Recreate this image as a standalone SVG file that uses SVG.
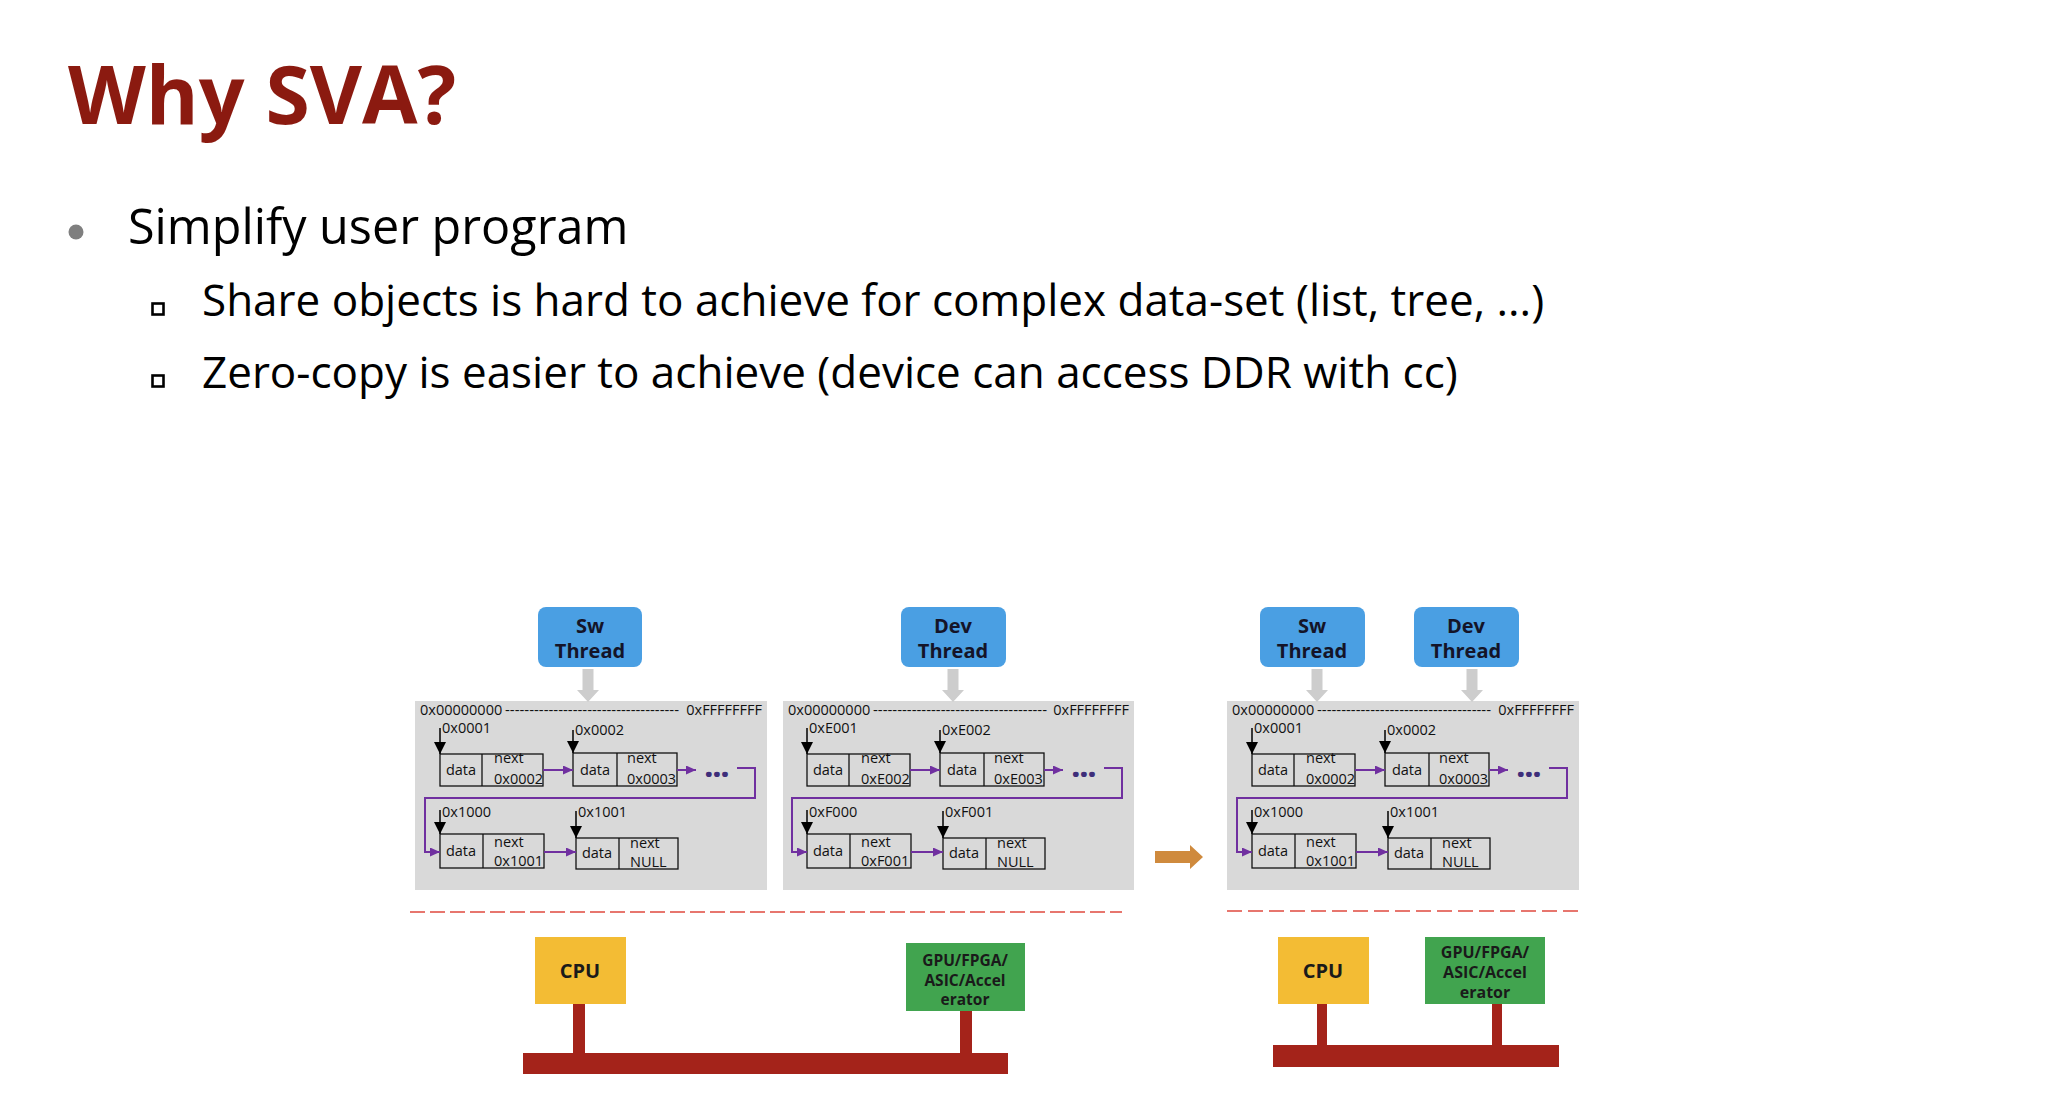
<svg xmlns="http://www.w3.org/2000/svg" width="2046" height="1098" viewBox="0 0 2046 1098">
<style>
.title{font-family:"Open Sans","Noto Sans",sans-serif;font-weight:700;font-size:80.5px;fill:#8B1A10}
.b1{font-family:"Open Sans","Noto Sans",sans-serif;font-size:48.5px;fill:#000}
.b2{font-family:"Open Sans","Noto Sans",sans-serif;font-size:44px;fill:#000}
.panel{fill:#D9D9D9}
.t{font-family:"Open Sans","Noto Sans",sans-serif;font-size:14.5px;fill:#111}
.cell{fill:none;stroke:#111;stroke-width:1.3}
.ptr{stroke:#000;stroke-width:1.5;fill:none}
.lnk{stroke:#7030A0;stroke-width:2;fill:none}
.dots{font-family:"Open Sans","Noto Sans",sans-serif;font-weight:800;font-size:28px;fill:#3E2E7A}
.thread{fill:#4A9FE3}
.tt{font-family:"Open Sans","Noto Sans",sans-serif;font-weight:700;font-size:20px;fill:#141428;text-anchor:middle}
.garrow{fill:#CDCDCD}
.sep{stroke:#E04A3F;stroke-width:1.5;fill:none}
.cpu{fill:#F3BC34}
.gpu{fill:#41A44F}
.bus{fill:#A4231A}
.hw{font-family:"Open Sans","Noto Sans",sans-serif;font-weight:700;fill:#1A1A1A;text-anchor:middle}
</style>
<defs>
<marker id="pa" markerUnits="userSpaceOnUse" markerWidth="10" markerHeight="9" refX="10" refY="4.5" orient="auto"><path d="M0,0 L10,4.5 L0,9 z" fill="#7030A0"/></marker>
<marker id="ba" markerUnits="userSpaceOnUse" markerWidth="12" markerHeight="12" refX="12" refY="6" orient="auto"><path d="M0,0 L12,6 L0,12 z" fill="#000"/></marker>
</defs>
<rect width="2046" height="1098" fill="#fff"/>

<g id="heading">
<text class="title" x="68" y="124">Why SVA?</text>
<circle cx="76" cy="232" r="7.5" fill="#7F7F7F"/>
<text class="b1" x="128" y="244">Simplify user program</text>
<rect x="152.5" y="303.5" width="11" height="11" fill="none" stroke="#000" stroke-width="2.6"/>
<text class="b2" x="202" y="316">Share objects is hard to achieve for complex data-set (list, tree, ...)</text>
<rect x="152.5" y="375.5" width="11" height="11" fill="none" stroke="#000" stroke-width="2.6"/>
<text class="b2" x="202" y="388">Zero-copy is easier to achieve (device can access DDR with cc)</text>
</g>

<g id="thread-sw-1"><rect class="thread" x="538" y="607" width="104" height="60" rx="8"/><text class="tt" x="590" y="633">Sw</text><text class="tt" x="590" y="658">Thread</text></g>
<g id="thread-dev-2"><rect class="thread" x="901" y="607" width="105" height="60" rx="8"/><text class="tt" x="953" y="633">Dev</text><text class="tt" x="953" y="658">Thread</text></g>
<g id="thread-sw-3"><rect class="thread" x="1260" y="607" width="105" height="60" rx="8"/><text class="tt" x="1312" y="633">Sw</text><text class="tt" x="1312" y="658">Thread</text></g>
<g id="thread-dev-3"><rect class="thread" x="1414" y="607" width="105" height="60" rx="8"/><text class="tt" x="1466" y="633">Dev</text><text class="tt" x="1466" y="658">Thread</text></g>

<g id="panel-1" transform="translate(415,701)">
<rect class="panel" width="352" height="189"/>
<text class="t" x="5" y="14">0x00000000</text>
<text class="t" x="90" y="14" textLength="174" lengthAdjust="spacingAndGlyphs">------------------------------------</text>
<text class="t" x="347" y="14" text-anchor="end">0xFFFFFFFF</text>
<g id="p1-n1"><rect class="cell" x="25" y="53" width="103" height="32"/><line class="cell" x1="67" y1="53" x2="67" y2="85"/><text class="t" x="46" y="74" text-anchor="middle">data</text><text class="t" x="79" y="62">next</text><text class="t" x="79" y="83">0x0002</text></g>
<g id="p1-n2"><rect class="cell" x="158" y="52" width="104" height="33"/><line class="cell" x1="202" y1="52" x2="202" y2="85"/><text class="t" x="180" y="74" text-anchor="middle">data</text><text class="t" x="212" y="62">next</text><text class="t" x="212" y="83">0x0003</text></g>
<g id="p1-n3"><rect class="cell" x="25" y="133" width="104" height="34"/><line class="cell" x1="68" y1="133" x2="68" y2="167"/><text class="t" x="46" y="155" text-anchor="middle">data</text><text class="t" x="79" y="146">next</text><text class="t" x="79" y="165">0x1001</text></g>
<g id="p1-n4"><rect class="cell" x="161" y="137" width="102" height="31"/><line class="cell" x1="204" y1="137" x2="204" y2="168"/><text class="t" x="182" y="157" text-anchor="middle">data</text><text class="t" x="215" y="147">next</text><text class="t" x="215" y="166">NULL</text></g>
<text class="t" x="27" y="32">0x0001</text>
<text class="t" x="160" y="34">0x0002</text>
<text class="t" x="27" y="116">0x1000</text>
<text class="t" x="163" y="116">0x1001</text>
<text class="dots" x="302" y="76" text-anchor="middle">…</text>
<g id="p1-links">
<path class="ptr" d="M25,27 V53" marker-end="url(#ba)"/>
<path class="ptr" d="M158,29 V52" marker-end="url(#ba)"/>
<path class="ptr" d="M25,109 V133" marker-end="url(#ba)"/>
<path class="ptr" d="M161,110 V137" marker-end="url(#ba)"/>
<path class="lnk" d="M128,69 H158" marker-end="url(#pa)"/>
<path class="lnk" d="M262,69 H281" marker-end="url(#pa)"/>
<path class="lnk" d="M322,67 H340 V97 H10 V151 H25" marker-end="url(#pa)"/>
<path class="lnk" d="M129,151 H161" marker-end="url(#pa)"/>
</g>
</g>

<g id="panel-2" transform="translate(783,701)">
<rect class="panel" width="351" height="189"/>
<text class="t" x="5" y="14">0x00000000</text>
<text class="t" x="90" y="14" textLength="174" lengthAdjust="spacingAndGlyphs">------------------------------------</text>
<text class="t" x="346" y="14" text-anchor="end">0xFFFFFFFF</text>
<g id="p2-n1"><rect class="cell" x="24" y="53" width="103" height="32"/><line class="cell" x1="66" y1="53" x2="66" y2="85"/><text class="t" x="45" y="74" text-anchor="middle">data</text><text class="t" x="78" y="62">next</text><text class="t" x="78" y="83">0xE002</text></g>
<g id="p2-n2"><rect class="cell" x="157" y="52" width="104" height="33"/><line class="cell" x1="201" y1="52" x2="201" y2="85"/><text class="t" x="179" y="74" text-anchor="middle">data</text><text class="t" x="211" y="62">next</text><text class="t" x="211" y="83">0xE003</text></g>
<g id="p2-n3"><rect class="cell" x="24" y="133" width="104" height="34"/><line class="cell" x1="67" y1="133" x2="67" y2="167"/><text class="t" x="45" y="155" text-anchor="middle">data</text><text class="t" x="78" y="146">next</text><text class="t" x="78" y="165">0xF001</text></g>
<g id="p2-n4"><rect class="cell" x="160" y="137" width="102" height="31"/><line class="cell" x1="203" y1="137" x2="203" y2="168"/><text class="t" x="181" y="157" text-anchor="middle">data</text><text class="t" x="214" y="147">next</text><text class="t" x="214" y="166">NULL</text></g>
<text class="t" x="26" y="32">0xE001</text>
<text class="t" x="159" y="34">0xE002</text>
<text class="t" x="26" y="116">0xF000</text>
<text class="t" x="162" y="116">0xF001</text>
<text class="dots" x="301" y="76" text-anchor="middle">…</text>
<g id="p2-links">
<path class="ptr" d="M24,27 V53" marker-end="url(#ba)"/>
<path class="ptr" d="M157,29 V52" marker-end="url(#ba)"/>
<path class="ptr" d="M24,109 V133" marker-end="url(#ba)"/>
<path class="ptr" d="M160,110 V137" marker-end="url(#ba)"/>
<path class="lnk" d="M127,69 H157" marker-end="url(#pa)"/>
<path class="lnk" d="M261,69 H280" marker-end="url(#pa)"/>
<path class="lnk" d="M321,67 H339 V97 H9 V151 H24" marker-end="url(#pa)"/>
<path class="lnk" d="M128,151 H160" marker-end="url(#pa)"/>
</g>
</g>

<g id="panel-3" transform="translate(1227,701)">
<rect class="panel" width="352" height="189"/>
<text class="t" x="5" y="14">0x00000000</text>
<text class="t" x="90" y="14" textLength="174" lengthAdjust="spacingAndGlyphs">------------------------------------</text>
<text class="t" x="347" y="14" text-anchor="end">0xFFFFFFFF</text>
<g id="p3-n1"><rect class="cell" x="25" y="53" width="103" height="32"/><line class="cell" x1="67" y1="53" x2="67" y2="85"/><text class="t" x="46" y="74" text-anchor="middle">data</text><text class="t" x="79" y="62">next</text><text class="t" x="79" y="83">0x0002</text></g>
<g id="p3-n2"><rect class="cell" x="158" y="52" width="104" height="33"/><line class="cell" x1="202" y1="52" x2="202" y2="85"/><text class="t" x="180" y="74" text-anchor="middle">data</text><text class="t" x="212" y="62">next</text><text class="t" x="212" y="83">0x0003</text></g>
<g id="p3-n3"><rect class="cell" x="25" y="133" width="104" height="34"/><line class="cell" x1="68" y1="133" x2="68" y2="167"/><text class="t" x="46" y="155" text-anchor="middle">data</text><text class="t" x="79" y="146">next</text><text class="t" x="79" y="165">0x1001</text></g>
<g id="p3-n4"><rect class="cell" x="161" y="137" width="102" height="31"/><line class="cell" x1="204" y1="137" x2="204" y2="168"/><text class="t" x="182" y="157" text-anchor="middle">data</text><text class="t" x="215" y="147">next</text><text class="t" x="215" y="166">NULL</text></g>
<text class="t" x="27" y="32">0x0001</text>
<text class="t" x="160" y="34">0x0002</text>
<text class="t" x="27" y="116">0x1000</text>
<text class="t" x="163" y="116">0x1001</text>
<text class="dots" x="302" y="76" text-anchor="middle">…</text>
<g id="p3-links">
<path class="ptr" d="M25,27 V53" marker-end="url(#ba)"/>
<path class="ptr" d="M158,29 V52" marker-end="url(#ba)"/>
<path class="ptr" d="M25,109 V133" marker-end="url(#ba)"/>
<path class="ptr" d="M161,110 V137" marker-end="url(#ba)"/>
<path class="lnk" d="M128,69 H158" marker-end="url(#pa)"/>
<path class="lnk" d="M262,69 H281" marker-end="url(#pa)"/>
<path class="lnk" d="M322,67 H340 V97 H10 V151 H25" marker-end="url(#pa)"/>
<path class="lnk" d="M129,151 H161" marker-end="url(#pa)"/>
</g>
</g>

<g id="connectors">
<polygon class="garrow" points="582.5,669 593.5,669 593.5,690 599,690 588,702 577,690 582.5,690"/>
<polygon class="garrow" points="947.5,669 958.5,669 958.5,690 964,690 953,702 942,690 947.5,690"/>
<polygon class="garrow" points="1311.5,669 1322.5,669 1322.5,690 1328,690 1317,702 1306,690 1311.5,690"/>
<polygon class="garrow" points="1466.5,669 1477.5,669 1477.5,690 1483,690 1472,702 1461,690 1466.5,690"/>
<polygon id="transition-arrow" points="1155,851 1190,851 1190,845 1203,857 1190,869 1190,863 1155,863" fill="#CF8A3D"/>
<line class="sep" x1="410" y1="912" x2="1122" y2="912" stroke-dasharray="15 5"/>
<line class="sep" x1="1227" y1="911" x2="1579" y2="911" stroke-dasharray="15 6"/>
<rect class="bus" x="573" y="1004" width="12" height="49"/>
<rect class="bus" x="960" y="1011" width="12" height="42"/>
<rect class="bus" x="1317" y="1004" width="10" height="42"/>
<rect class="bus" x="1492" y="1004" width="10" height="42"/>
</g>

<g id="bus-1"><rect class="bus" x="523" y="1053" width="485" height="21"/></g>
<g id="bus-2"><rect class="bus" x="1273" y="1045" width="286" height="22"/></g>

<g id="cpu-1"><rect class="cpu" x="535" y="937" width="91" height="67"/><text class="hw" x="580" y="978" font-size="20">CPU</text></g>
<g id="gpu-1"><rect class="gpu" x="906" y="943" width="119" height="68"/><text class="hw" x="965" y="966" font-size="15.5">GPU/FPGA/</text><text class="hw" x="965" y="986" font-size="15.5">ASIC/Accel</text><text class="hw" x="965" y="1005" font-size="15.5">erator</text></g>
<g id="cpu-2"><rect class="cpu" x="1278" y="937" width="91" height="67"/><text class="hw" x="1323" y="978" font-size="20">CPU</text></g>
<g id="gpu-2"><rect class="gpu" x="1425" y="937" width="120" height="67"/><text class="hw" x="1485" y="958" font-size="16">GPU/FPGA/</text><text class="hw" x="1485" y="978" font-size="16">ASIC/Accel</text><text class="hw" x="1485" y="998" font-size="16">erator</text></g>
</svg>
